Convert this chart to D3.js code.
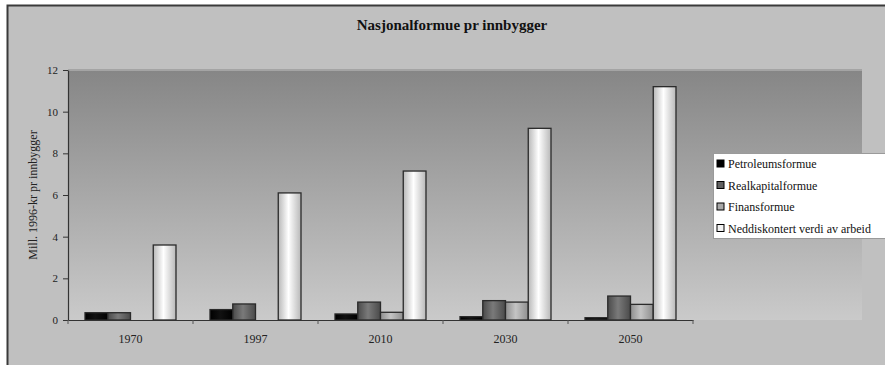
<!DOCTYPE html>
<html>
<head>
<meta charset="utf-8">
<script src="https://cdn.jsdelivr.net/npm/d3@7"></script>
<style>
  html, body { margin: 0; padding: 0; background: #ffffff; }
  svg { display: block; }
</style>
</head>
<body>
<svg id="chart" width="885" height="365"></svg>
<script>
// Nasjonalformue pr innbygger, mill. 1996-kr
const years = ["1970", "1997", "2010", "2030", "2050"];
const seriesNames = ["Petroleumsformue", "Realkapitalformue", "Finansformue", "Neddiskontert verdi av arbeid"];
const petroleum   = [0.35, 0.50, 0.29, 0.16, 0.11];
const realkapital = [0.35, 0.77, 0.86, 0.93, 1.15];
const finans      = [0.00, 0.00, 0.37, 0.86, 0.75];
const arbeid      = [3.60, 6.10, 7.15, 9.20, 11.20];
const yTicks = [0, 2, 4, 6, 8, 10, 12];

const FONT = '"Liberation Serif", "Times New Roman", serif';

const seriesValues = [petroleum, realkapital, finans, arbeid];
const rows = years.map((yr, i) => ({
  year: yr,
  values: seriesNames.map((name, s) => ({ name, s, value: seriesValues[s][i] }))
}));

const svg = d3.select("#chart");
const defs = svg.append("defs");

// Outer chart area
svg.append("rect").attr("x", 0).attr("y", 0).attr("width", 885).attr("height", 365).attr("fill", "#ffffff");
svg.append("rect").attr("x", 7.5).attr("y", 5.5).attr("width", 890).attr("height", 370)
  .attr("fill", "#c0c0c0").attr("stroke", "#3a3a3a").attr("stroke-width", 2);

// Plot-area background gradient
const bg = defs.append("linearGradient").attr("id", "plotBg").attr("x1", 0).attr("y1", 0).attr("x2", 0).attr("y2", 1);
bg.append("stop").attr("offset", "0%").attr("stop-color", "#868686");
bg.append("stop").attr("offset", "100%").attr("stop-color", "#cacaca");

// Horizontal shading for the bars
function barGrad(id, edge, mid) {
  const g = defs.append("linearGradient").attr("id", id).attr("x1", 0).attr("y1", 0).attr("x2", 1).attr("y2", 0);
  g.append("stop").attr("offset", "0%").attr("stop-color", edge);
  g.append("stop").attr("offset", "45%").attr("stop-color", mid);
  g.append("stop").attr("offset", "100%").attr("stop-color", edge);
}
barGrad("g0", "#000000", "#111111");
barGrad("g1", "#4a4a4a", "#7a7a7a");
barGrad("g2", "#8e8e8e", "#c4c4c4");
barGrad("g3", "#b8b8b8", "#ffffff");
const fills = ["url(#g0)", "url(#g1)", "url(#g2)", "url(#g3)"];
const swatch = ["#000000", "#606060", "#a8a8a8", "#f2f2f2"];

const plot = { left: 68, right: 693, top: 70, bottom: 320, bgRight: 862 };

svg.append("rect")
  .attr("x", plot.left).attr("y", plot.top)
  .attr("width", plot.bgRight - plot.left).attr("height", plot.bottom - plot.top)
  .attr("fill", "url(#plotBg)");
svg.append("rect")
  .attr("x", plot.left).attr("y", plot.top - 1)
  .attr("width", plot.bgRight - plot.left).attr("height", 2)
  .attr("fill", "#a4a4a4");

const x0 = d3.scaleBand().domain(years).range([plot.left, plot.right]).padding(0);
const x1 = d3.scaleBand().domain(seriesNames).range([17, x0.bandwidth() - 17]).padding(0);
const y = d3.scaleLinear().domain([0, 12]).range([plot.bottom, plot.top]);

// Bars
const groups = svg.append("g").selectAll("g").data(rows).join("g")
  .attr("transform", d => `translate(${x0(d.year)},0)`);
groups.selectAll("rect").data(d => d.values.filter(v => v.value > 0)).join("rect")
  .attr("x", d => x1(d.name))
  .attr("y", d => y(d.value))
  .attr("width", x1.bandwidth())
  .attr("height", d => y(0) - y(d.value))
  .attr("fill", d => fills[d.s])
  .attr("stroke", "#2a2a2a")
  .attr("stroke-width", 1.3);

// Y axis
const yAxis = svg.append("g").attr("transform", `translate(${plot.left},0)`)
  .call(d3.axisLeft(y).tickValues(yTicks).tickSize(5).tickPadding(5).tickSizeOuter(0));
yAxis.attr("font-family", FONT);
yAxis.select(".domain").attr("stroke", "#333").attr("stroke-width", 1.2);
yAxis.selectAll(".tick line").attr("stroke", "#333");
yAxis.selectAll(".tick text").attr("font-size", 11).attr("fill", "#222").attr("font-family", FONT);

// X axis
const xAxis = svg.append("g").attr("transform", `translate(0,${plot.bottom})`)
  .call(d3.axisBottom(x0).tickSize(0).tickPadding(14));
xAxis.attr("font-family", FONT);
xAxis.select(".domain").attr("stroke", "#333").attr("stroke-width", 1.2);
xAxis.selectAll(".tick text").attr("font-size", 12).attr("fill", "#222").attr("font-family", FONT);
// tick marks between categories
svg.append("g").selectAll("line").data(years.concat(["end"])).join("line")
  .attr("x1", (d, i) => plot.left + i * x0.bandwidth())
  .attr("x2", (d, i) => plot.left + i * x0.bandwidth())
  .attr("y1", plot.bottom).attr("y2", plot.bottom + 4)
  .attr("stroke", "#555");

// Title
svg.append("text").attr("x", 452).attr("y", 30).attr("text-anchor", "middle")
  .attr("font-family", FONT).attr("fill", "#111")
  .attr("font-size", 15).attr("font-weight", "bold")
  .text("Nasjonalformue pr innbygger");

// Y axis title
svg.append("text")
  .attr("transform", "translate(37,195) rotate(-90)")
  .attr("font-family", FONT).attr("fill", "#222")
  .attr("text-anchor", "middle").attr("font-size", 12)
  .text("Mill. 1996-kr pr innbygger");

// Legend
const legend = svg.append("g").attr("transform", "translate(713,153)");
legend.append("rect").attr("x", 0.5).attr("y", 0.5).attr("width", 200).attr("height", 85)
  .attr("fill", "#ffffff").attr("stroke", "#9a9a9a");
const items = legend.selectAll("g.item").data(seriesNames).join("g")
  .attr("class", "item")
  .attr("transform", (d, i) => `translate(4,${11 + i * 21.5})`);
items.append("rect").attr("x", 0).attr("y", -4).attr("width", 7).attr("height", 7)
  .attr("fill", (d, i) => swatch[i]).attr("stroke", "#000").attr("stroke-width", 1);
items.append("text").attr("x", 11).attr("y", 4)
  .attr("font-family", FONT).attr("fill", "#111")
  .attr("font-size", 12).text(d => d);
</script>
</body>
</html>
